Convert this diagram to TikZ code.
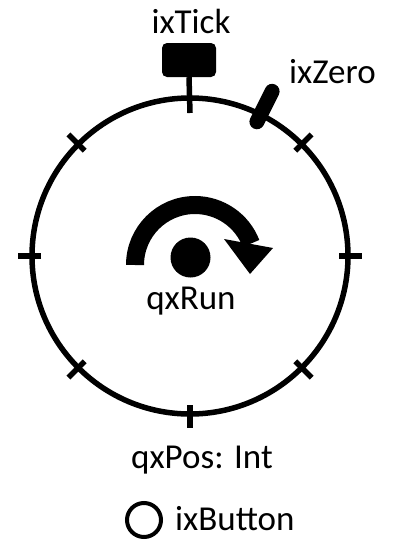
\documentclass[tikz,border=0pt]{standalone}
\usepackage{fontspec}
\setmainfont{Carlito}
\usetikzlibrary{calc}
\begin{document}
\begin{tikzpicture}[x=1pt,y=-1pt,
  lbl/.style={inner sep=0pt,anchor=base,font=\fontsize{35}{41}\selectfont},
  tickmark/.style={line width=5.5pt},
  ring/.style={line width=5.5pt}]
\useasboundingbox (0,0) rectangle (395,541);
\coordinate (c) at (190,256);
% main ring
\draw[ring] (c) circle[radius=158];
% ticks
\foreach \a in {0,45,90,135,180,225,315}{
  \draw[tickmark] ($(c)+(\a:149)$) -- ($(c)+(\a:172)$);
}
% ixTick stem and box
\node[fill=black,rounded corners=5pt,minimum width=54pt,minimum height=34pt,inner sep=0pt] (tickbox) at (189,60) {};
\coordinate (stemend) at ($(c)+(270:143)$);
\draw[tickmark] (tickbox.south) -- (stemend);
\node[lbl] (ixtick) at (191,33) {ixTick};
% ixZero stick
\coordinate (z1) at ($(c)+(296.5:150)$);
\coordinate (z2) at ($(c)+(296.5:184)$);
\draw[line width=15pt,line cap=round] (z1) -- (z2);
\node[lbl,anchor=base west] (ixzero) at (289,83) {ixZero};
% rotation arrow
\coordinate (ac) at (195,265);
\draw[line width=18pt] ($(ac)+(180:60)$) arc[start angle=180,end angle=339,radius=60];
\coordinate (h1) at (224,239);
\coordinate (h2) at (273,248);
\coordinate (h3) at (250,274);
\fill (h1) -- (h2) -- (h3) -- cycle;
\fill (190.5,257.5) circle[radius=20];
\node[lbl] (qxrun) at (191,309) {qxRun};
% bottom labels
\node[lbl] (qxpos) at (202,468) {qxPos: Int};
\node[draw,line width=4pt,circle,minimum size=34pt,inner sep=0pt] (btn) at (144,520) {};
\node[lbl,anchor=base west] (ixbutton) at (175,530) {ixButton};
\end{tikzpicture}
\end{document}
